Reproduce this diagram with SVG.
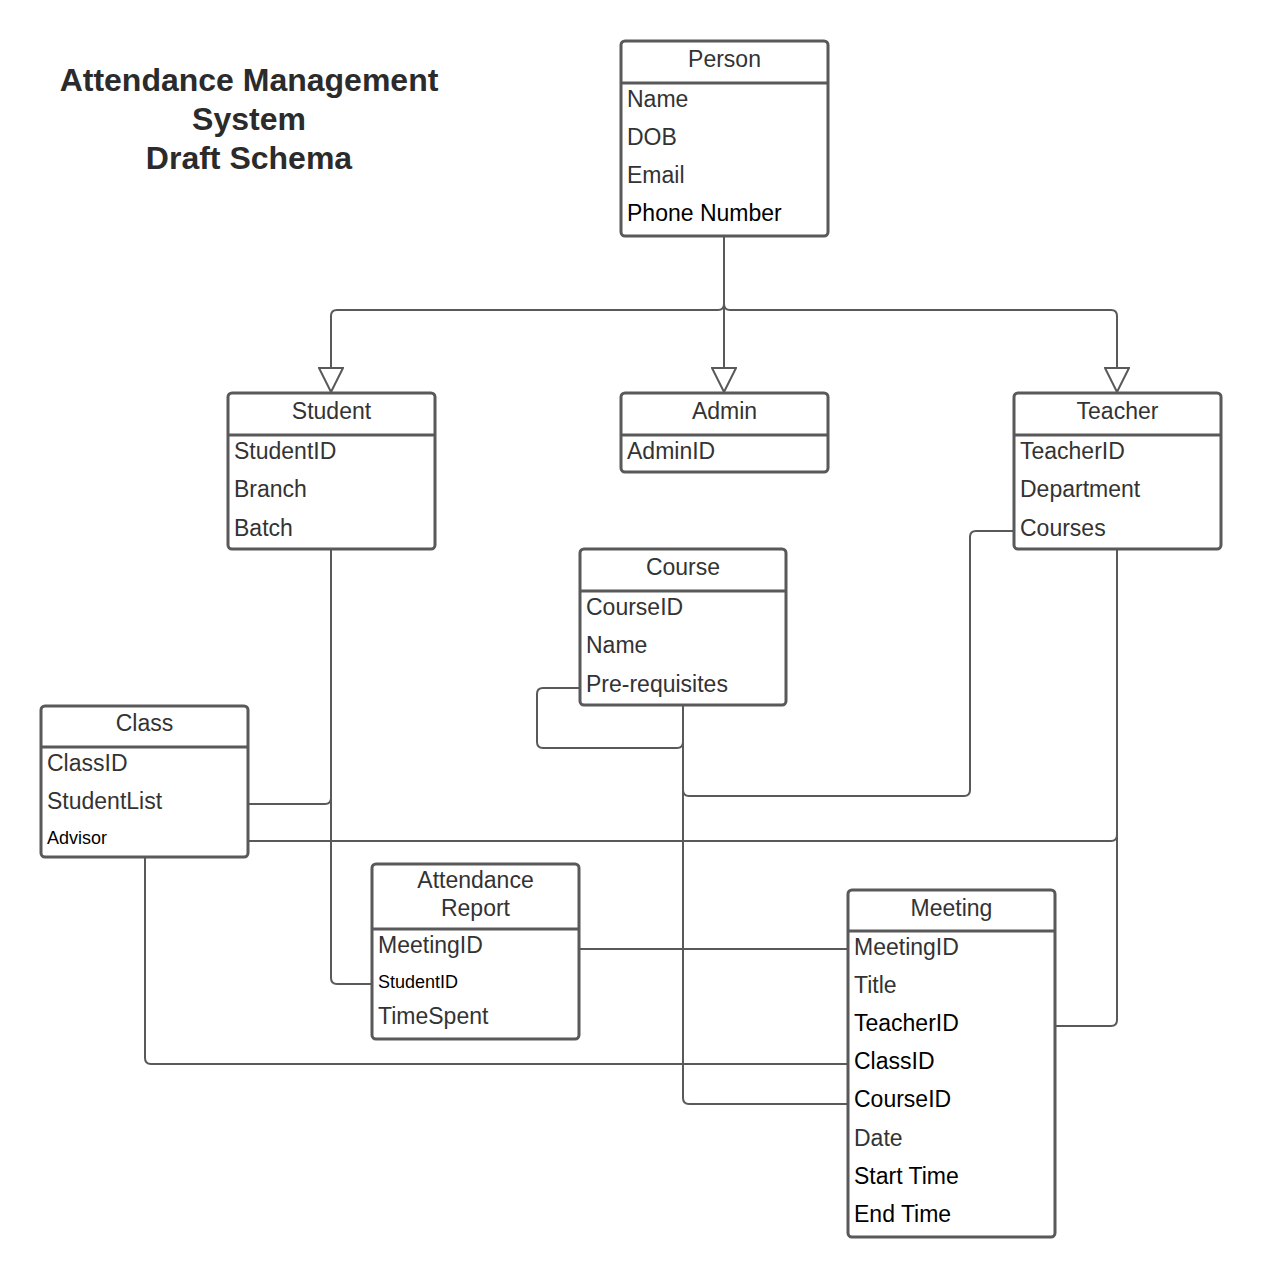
<svg xmlns="http://www.w3.org/2000/svg" width="1263" height="1280" viewBox="0 0 1263 1280">
<defs>
<style>
.box{fill:#fff;stroke:#595959;stroke-width:3}
.div{stroke:#595959;stroke-width:3}
.con{fill:none;stroke:#595959;stroke-width:2;stroke-linejoin:round}
text{font-family:"Liberation Sans",Arial,sans-serif;fill:#333}
.h{font-size:23px;text-anchor:middle}
.a{font-size:23px}
.k{fill:#000}
.s{font-size:18px;fill:#000}
.t{font-size:32px;font-weight:bold;text-anchor:middle;fill:#2b2b2b}
</style>
<marker id="tri" markerWidth="30" markerHeight="26" refX="25" refY="13" orient="auto" markerUnits="userSpaceOnUse">
<path d="M1,1 L25,13 L1,25 Z" fill="#fff" stroke="#595959" stroke-width="2"/>
</marker>
</defs>
<rect width="1263" height="1280" fill="#fff"/>
<g id="title">
<text class="t" x="249" y="91">Attendance Management</text>
<text class="t" x="249" y="130">System</text>
<text class="t" x="249" y="169">Draft Schema</text>
</g>
<g id="connectors">
<path class="con" d="M724,236 V304 Q724,310 718,310 H337 Q331,310 331,316 V392" marker-end="url(#tri)"/>
<path class="con" d="M724,236 V392" marker-end="url(#tri)"/>
<path class="con" d="M724,236 V304 Q724,310 730,310 H1111 Q1117,310 1117,316 V392" marker-end="url(#tri)"/>
<path class="con" d="M1014,531 H976 Q970,531 970,537 V790 Q970,796 964,796 H689 Q683,796 683,790 V705"/>
<path class="con" d="M580,688 H543 Q537,688 537,694 V742 Q537,748 543,748 H677 Q683,748 683,742 V705"/>
<path class="con" d="M683,705 V1098 Q683,1104 689,1104 H848"/>
<path class="con" d="M331,549 V978 Q331,984 337,984 H372"/>
<path class="con" d="M248,804 H325 Q331,804 331,798 V790"/>
<path class="con" d="M248,841 H1111 Q1117,841 1117,835 V820"/>
<path class="con" d="M1117,549 V1020 Q1117,1026 1111,1026 H1055"/>
<path class="con" d="M145,857 V1058 Q145,1064 151,1064 H848"/>
<path class="con" d="M579,949 H848"/>
</g>
<g id="person">
<rect class="box" x="621" y="41" width="207" height="195" rx="4"/>
<line class="div" x1="621" y1="83" x2="828" y2="83"/>
<text class="h" x="724.5" y="67">Person</text>
<text class="a" x="627" y="107">Name</text>
<text class="a" x="627" y="145">DOB</text>
<text class="a" x="627" y="183">Email</text>
<text class="a k" x="627" y="221">Phone Number</text>
</g>
<g id="student">
<rect class="box" x="228" y="393" width="207" height="156" rx="4"/>
<line class="div" x1="228" y1="435" x2="435" y2="435"/>
<text class="h" x="331.5" y="419">Student</text>
<text class="a" x="234" y="459">StudentID</text>
<text class="a" x="234" y="497">Branch</text>
<text class="a" x="234" y="536">Batch</text>
</g>
<g id="admin">
<rect class="box" x="621" y="393" width="207" height="79" rx="4"/>
<line class="div" x1="621" y1="435" x2="828" y2="435"/>
<text class="h" x="724.5" y="419">Admin</text>
<text class="a" x="627" y="459">AdminID</text>
</g>
<g id="teacher">
<rect class="box" x="1014" y="393" width="207" height="156" rx="4"/>
<line class="div" x1="1014" y1="435" x2="1221" y2="435"/>
<text class="h" x="1117.5" y="419">Teacher</text>
<text class="a" x="1020" y="459">TeacherID</text>
<text class="a" x="1020" y="497">Department</text>
<text class="a" x="1020" y="536">Courses</text>
</g>
<g id="course">
<rect class="box" x="580" y="549" width="206" height="156" rx="4"/>
<line class="div" x1="580" y1="591" x2="786" y2="591"/>
<text class="h" x="683" y="575">Course</text>
<text class="a" x="586" y="615">CourseID</text>
<text class="a" x="586" y="653">Name</text>
<text class="a" x="586" y="692">Pre-requisites</text>
</g>
<g id="class">
<rect class="box" x="41" y="706" width="207" height="151" rx="4"/>
<line class="div" x1="41" y1="747" x2="248" y2="747"/>
<text class="h" x="144.5" y="731">Class</text>
<text class="a" x="47" y="771">ClassID</text>
<text class="a" x="47" y="809">StudentList</text>
<text class="s" x="47" y="844">Advisor</text>
</g>
<g id="attendance-report">
<rect class="box" x="372" y="864" width="207" height="175" rx="4"/>
<line class="div" x1="372" y1="929" x2="579" y2="929"/>
<text class="h" x="475.5" y="888">Attendance</text>
<text class="h" x="475.5" y="916">Report</text>
<text class="a" x="378" y="953">MeetingID</text>
<text class="s" x="378" y="988">StudentID</text>
<text class="a" x="378" y="1024">TimeSpent</text>
</g>
<g id="meeting">
<rect class="box" x="848" y="890" width="207" height="347" rx="4"/>
<line class="div" x1="848" y1="931" x2="1055" y2="931"/>
<text class="h" x="951.5" y="916">Meeting</text>
<text class="a" x="854" y="955">MeetingID</text>
<text class="a" x="854" y="993">Title</text>
<text class="a k" x="854" y="1031">TeacherID</text>
<text class="a k" x="854" y="1069">ClassID</text>
<text class="a k" x="854" y="1107">CourseID</text>
<text class="a" x="854" y="1146">Date</text>
<text class="a k" x="854" y="1184">Start Time</text>
<text class="a k" x="854" y="1222">End Time</text>
</g>
</svg>
